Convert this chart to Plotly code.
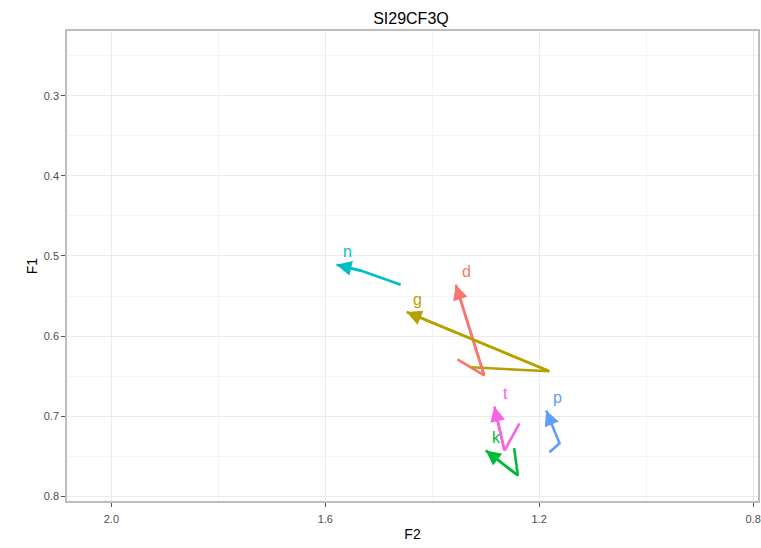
import plotly.graph_objects as go

# Formant trajectories (F2, F1) per consonant context; last point is the arrow tip
labels = ["d", "g", "k", "n", "p", "t"]
colors = ["#F8766D", "#B79F00", "#00BA38", "#00BFC4", "#619CFF", "#F564E3"]

f2_d = [1.353, 1.303, 1.356]
f1_d = [0.629, 0.649, 0.536]
f2_g = [1.328, 1.181, 1.448]
f1_g = [0.639, 0.644, 0.570]
f2_k = [1.247, 1.240, 1.300]
f1_k = [0.740, 0.774, 0.743]
f2_n = [1.459, 1.530, 1.579]
f1_n = [0.536, 0.519, 0.511]
f2_p = [1.181, 1.162, 1.175, 1.187]
f1_p = [0.745, 0.734, 0.713, 0.693]
f2_t = [1.237, 1.265, 1.284]
f1_t = [0.709, 0.743, 0.688]

f2_all = [f2_d, f2_g, f2_k, f2_n, f2_p, f2_t]
f1_all = [f1_d, f1_g, f1_k, f1_n, f1_p, f1_t]

x_ticks = [2.0, 1.6, 1.2, 0.8]
x_tick_text = ["2.0", "1.6", "1.2", "0.8"]
y_ticks = [0.3, 0.4, 0.5, 0.6, 0.7, 0.8]
y_tick_text = ["0.3", "0.4", "0.5", "0.6", "0.7", "0.8"]

FONT = "Liberation Sans, Arial, sans-serif"

fig = go.Figure()
annotations = []
for lab, col, xs, ys in zip(labels, colors, f2_all, f1_all):
    fig.add_trace(go.Scatter(
        x=xs, y=ys, mode="lines",
        line=dict(color=col, width=2.6),
        showlegend=False, hoverinfo="skip",
    ))
    # arrowhead on the final segment
    annotations.append(dict(
        x=xs[-1], y=ys[-1], ax=xs[-2], ay=ys[-2],
        xref="x", yref="y", axref="x", ayref="y",
        text="", showarrow=True, arrowhead=2, arrowsize=1.15,
        arrowwidth=2.6, arrowcolor=col, standoff=0,
    ))
    # phoneme label near the end of each trajectory
    annotations.append(dict(
        x=xs[-1], y=ys[-1], xref="x", yref="y",
        text=lab, showarrow=False, xshift=11, yshift=13,
        font=dict(family=FONT, size=16, color=col),
    ))

axis_common = dict(
    showgrid=True, gridcolor="#ebebeb", gridwidth=1,
    zeroline=False, showline=True, mirror=True,
    linecolor="#bdbdbd", linewidth=1.5,
    ticks="outside", ticklen=4, tickwidth=1.2, tickcolor="#555555",
    tickfont=dict(family=FONT, size=11, color="#4d4d4d"),
    title_font=dict(family=FONT, size=14, color="#000000"),
)

fig.update_layout(
    width=761, height=548,
    margin=dict(l=67, r=3, t=31, b=47, autoexpand=False),
    paper_bgcolor="white", plot_bgcolor="white",
    title=dict(text="SI29CF3Q", x=0.54, xanchor="center", y=0.967, yanchor="middle",
               font=dict(family=FONT, size=16, color="#000000")),
    annotations=annotations,
)
fig.update_xaxes(
    range=[2.083, 0.791], tickvals=x_ticks, ticktext=x_tick_text,
    title_text="F2", title_standoff=5, ticklabelstandoff=3,
    minor=dict(dtick=0.2, tick0=0.0, showgrid=True, gridcolor="#f4f4f4", gridwidth=1, ticks=""),
    **axis_common,
)
fig.update_yaxes(
    range=[0.806, 0.219], tickvals=y_ticks, ticktext=y_tick_text,
    title_text="F1", title_standoff=3,
    minor=dict(dtick=0.05, tick0=0.0, showgrid=True, gridcolor="#f4f4f4", gridwidth=1, ticks=""),
    **axis_common,
)

fig.write_html("out.html")
